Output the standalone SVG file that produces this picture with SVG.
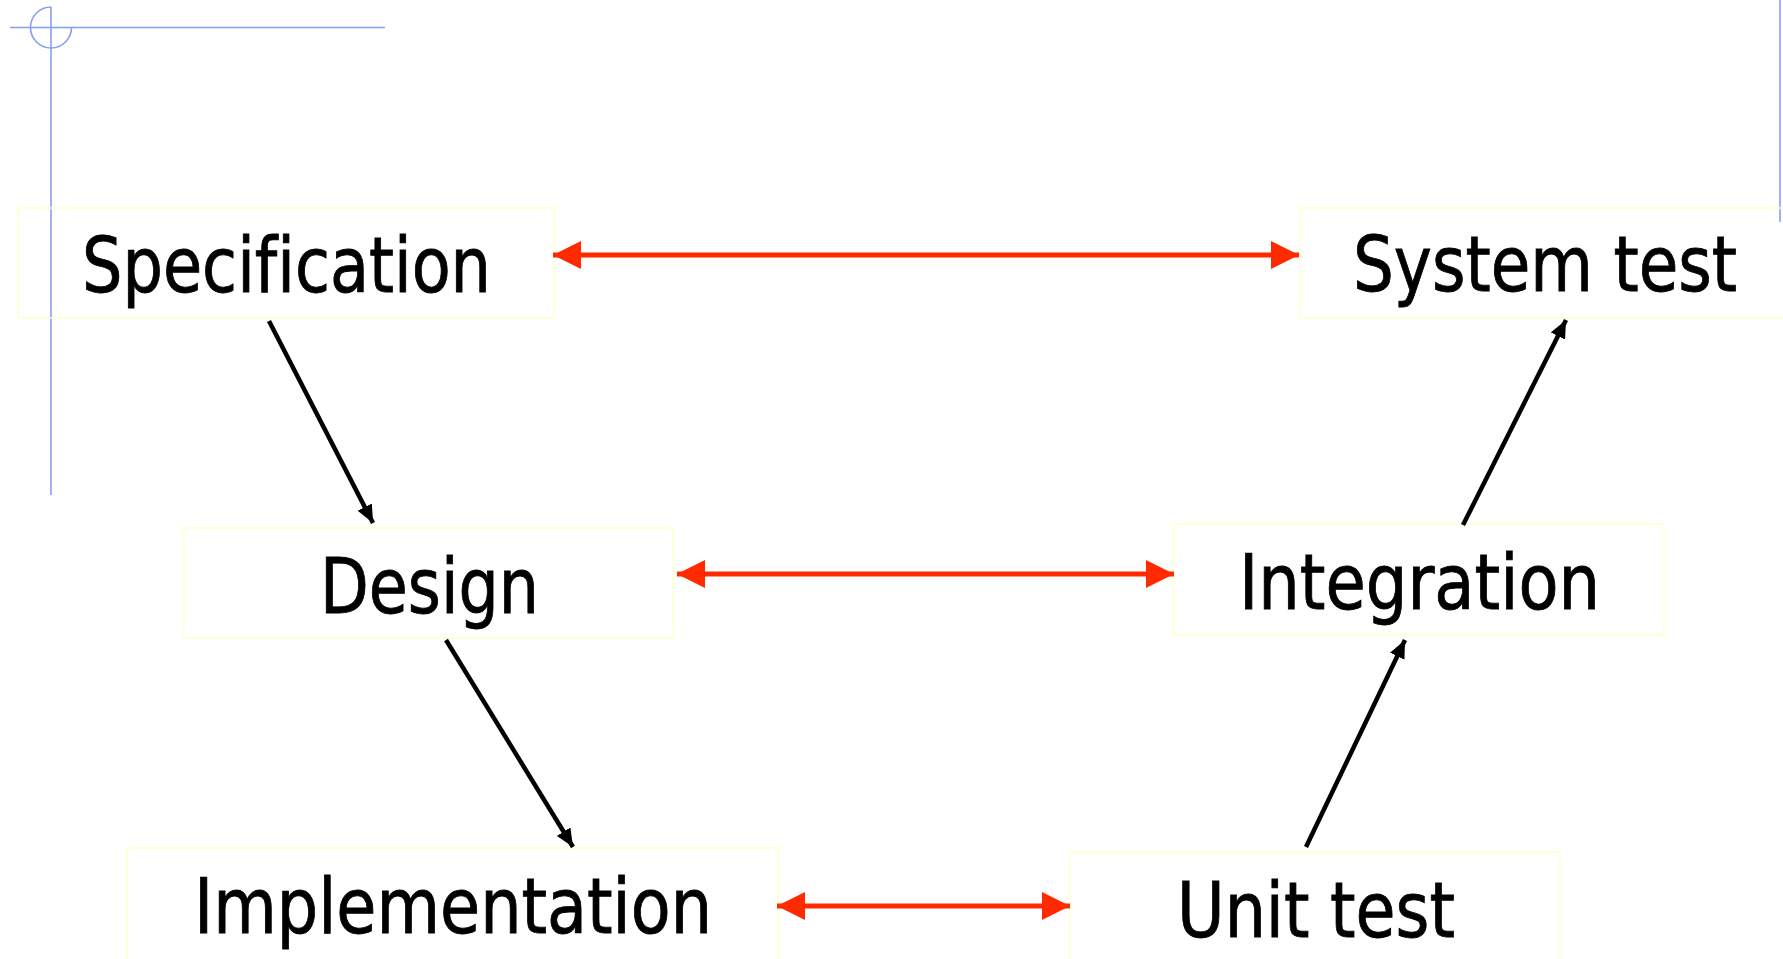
<svg xmlns="http://www.w3.org/2000/svg" width="1783" height="959" viewBox="0 0 1783 959">
<style>
.box{fill:none;stroke:#ffffcc;stroke-width:1.5}
.lbl{font-family:'DejaVu Sans Condensed','DejaVu Sans',sans-serif;font-stretch:condensed;font-size:76px;fill:#000000;stroke:#000000;stroke-width:0.8;font-variant-ligatures:none;font-feature-settings:"liga" 0}
.red{stroke:#ff2a00;stroke-width:5;fill:none;marker-start:url(#rh);marker-end:url(#rh)}
.blk{stroke:#000000;stroke-width:4.5;fill:none;marker-end:url(#bh)}
.guide{stroke:#84a0f4;stroke-width:1.6;fill:none}
</style>
<defs>
<marker id="rh" viewBox="0 0 28 28" refX="28" refY="14" markerWidth="28" markerHeight="28" markerUnits="userSpaceOnUse" orient="auto-start-reverse">
<path d="M0,0 L28,14 L0,28 z" fill="#ff2a00"/>
</marker>
<marker id="bh" viewBox="0 0 18 16" refX="18" refY="8" markerWidth="18" markerHeight="16" markerUnits="userSpaceOnUse" orient="auto">
<path d="M0,0 L18,8 L0,16 z" fill="#000000"/>
</marker>
</defs>
<rect width="1783" height="959" fill="#ffffff"/>
<g id="guides">
<line class="guide" x1="10" y1="27.5" x2="385" y2="27.5"/>
<line class="guide" x1="51" y1="7" x2="51" y2="495"/>
<path class="guide" d="M51,7 A20.5,20.5 0 1 0 71.5,27.5"/>
<line class="guide" x1="1780" y1="0" x2="1780" y2="222"/>
</g>
<g id="spec">
<rect class="box" x="18" y="208" width="536" height="110"/>
<text class="lbl" x="82" y="292" textLength="409" lengthAdjust="spacingAndGlyphs">Specification</text>
</g>
<g id="systest">
<rect class="box" x="1300" y="208" width="490" height="110"/>
<text class="lbl" x="1353" y="291" textLength="384" lengthAdjust="spacingAndGlyphs">System test</text>
</g>
<g id="design">
<rect class="box" x="183" y="528" width="490" height="110"/>
<text class="lbl" x="320" y="613" textLength="219" lengthAdjust="spacingAndGlyphs">Design</text>
</g>
<g id="integration">
<rect class="box" x="1173" y="524" width="491" height="111"/>
<text class="lbl" x="1239" y="609" textLength="361" lengthAdjust="spacingAndGlyphs">Integration</text>
</g>
<g id="implementation">
<rect class="box" x="127" y="848" width="651" height="120"/>
<text class="lbl" x="194" y="933" textLength="518" lengthAdjust="spacingAndGlyphs">Implementation</text>
</g>
<g id="unittest">
<rect class="box" x="1070" y="852" width="490" height="120"/>
<text class="lbl" x="1177" y="937" textLength="278" lengthAdjust="spacingAndGlyphs">Unit test</text>
</g>
<g id="connectors">
<line class="red" x1="553" y1="255" x2="1299" y2="255"/>
<line class="red" x1="677" y1="574" x2="1174" y2="574"/>
<line class="red" x1="777" y1="906" x2="1070" y2="906"/>
<line class="blk" x1="269" y1="321" x2="373" y2="523"/>
<line class="blk" x1="446" y1="640" x2="573" y2="847"/>
<line class="blk" x1="1306" y1="847" x2="1405" y2="640"/>
<line class="blk" x1="1463" y1="525" x2="1566" y2="320"/>
</g>
</svg>
